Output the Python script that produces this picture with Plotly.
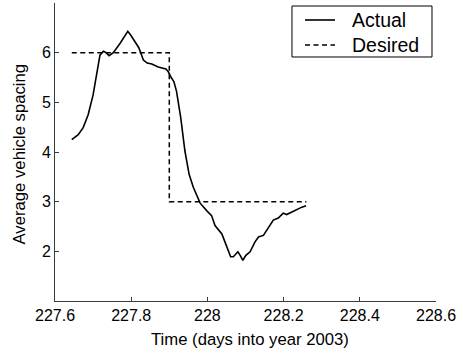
import plotly.graph_objects as go

# Data
actual_t = [227.644, 227.661, 227.674, 227.687, 227.700, 227.711, 227.718, 227.727,
            227.734, 227.742, 227.753, 227.771, 227.781, 227.791, 227.799, 227.810,
            227.820, 227.832, 227.842, 227.854, 227.871, 227.891, 227.897, 227.905,
            227.912, 227.919, 227.930, 227.941, 227.952, 227.963, 227.976, 227.981,
            227.998, 228.011, 228.020, 228.038, 228.046, 228.055, 228.061, 228.068,
            228.080, 228.086, 228.093, 228.101, 228.112, 228.125, 228.134, 228.147,
            228.160, 228.173, 228.186, 228.199, 228.208, 228.221, 228.234, 228.248,
            228.259]
actual_v = [4.25, 4.35, 4.49, 4.75, 5.15, 5.69, 5.95, 6.03,
            6.00, 5.94, 6.00, 6.19, 6.32, 6.43, 6.35, 6.21,
            6.10, 5.85, 5.79, 5.77, 5.71, 5.67, 5.62, 5.50,
            5.42, 5.22, 4.69, 4.02, 3.55, 3.29, 3.05, 2.97,
            2.82, 2.72, 2.52, 2.35, 2.19, 1.99, 1.89, 1.89,
            1.99, 1.92, 1.82, 1.92, 1.99, 2.19, 2.29, 2.32,
            2.49, 2.63, 2.67, 2.77, 2.74, 2.79, 2.85, 2.89,
            2.92]
desired_t = [227.644, 227.9, 227.9, 228.26]
desired_v = [6, 6, 3, 3]

x_ticks = [227.6, 227.8, 228.0, 228.2, 228.4, 228.6]
x_ticktext = ["227.6", "227.8", "228", "228.2", "228.4", "228.6"]
y_ticks = [2, 3, 4, 5, 6]
series_names = ["Actual", "Desired"]

FONT = "Liberation Sans, Arial, Helvetica, sans-serif"
SOLID = dict(color="black", width=1.6)
DASHED = dict(color="black", width=1.5, dash="5px,3.5px")

fig = go.Figure()
fig.add_trace(go.Scatter(x=actual_t, y=actual_v, mode="lines", name=series_names[0],
                         line=SOLID, showlegend=False))
fig.add_trace(go.Scatter(x=desired_t, y=desired_v, mode="lines", name=series_names[1],
                         line=DASHED, showlegend=False))

axis_common = dict(showgrid=False, zeroline=False, showline=True, linecolor="#3a3a3a",
                   linewidth=1, ticks="inside", ticklen=4, tickcolor="#3a3a3a",
                   automargin=False,
                   tickfont=dict(family=FONT, size=16, color="black"))

fig.update_xaxes(range=[227.6, 228.6], tickvals=x_ticks, ticktext=x_ticktext,
                 **axis_common)
fig.update_yaxes(range=[1, 7], tickvals=y_ticks, **axis_common)

# Axis titles
fig.add_annotation(text="Time (days into year 2003)", xref="paper", yref="paper",
                   x=0.512, y=-0.128, xanchor="center", yanchor="middle",
                   showarrow=False, font=dict(family=FONT, size=16.7, color="black"))
fig.add_annotation(text="Average vehicle spacing", xref="paper", yref="paper",
                   x=-0.0945, y=0.495, xanchor="center", yanchor="middle", textangle=-90,
                   showarrow=False, font=dict(family=FONT, size=16.7, color="black"))

# Legend box (drawn in paper coordinates)
fig.add_shape(type="rect", xref="paper", yref="paper", x0=0.622, x1=0.9895,
              y0=0.8188, y1=0.9899, line=dict(color="black", width=1),
              fillcolor="white", layer="above")
legend_rows_y = [0.943, 0.859]
for name, style, ly in zip(series_names, [SOLID, DASHED], legend_rows_y):
    fig.add_shape(type="line", xref="paper", yref="paper", x0=0.6562, x1=0.7349,
                  y0=ly, y1=ly, line=style, layer="above")
    fig.add_annotation(text=name, xref="paper", yref="paper", x=0.7743, y=ly,
                       xanchor="left", yanchor="middle", showarrow=False,
                       font=dict(family=FONT, size=19.5, color="black"))

fig.update_layout(
    width=459, height=350,
    margin=dict(l=55, r=23, t=3, b=49),
    paper_bgcolor="white", plot_bgcolor="white",
    font=dict(family=FONT, color="black"),
    showlegend=False,
)

fig.write_html("out.html", config={"displayModeBar": False},
               post_script="document.body.style.margin='0px';")
